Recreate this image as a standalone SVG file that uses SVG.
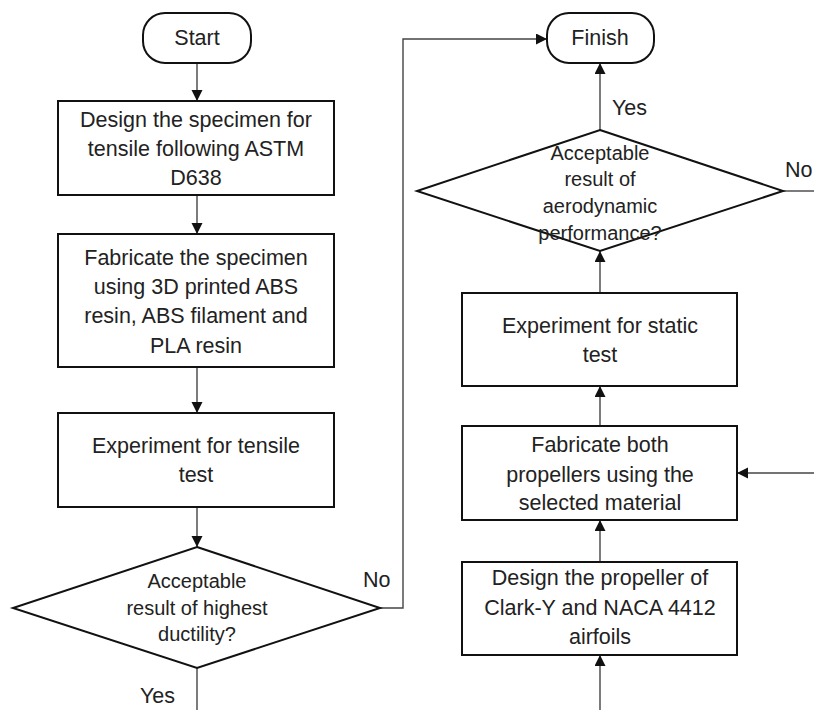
<svg xmlns="http://www.w3.org/2000/svg" width="814" height="710" viewBox="0 0 814 710">
<defs>
<marker id="ah" markerUnits="userSpaceOnUse" markerWidth="12" markerHeight="12" refX="11" refY="5.5" orient="auto">
<path d="M0,0 L11,5.5 L0,11 z" fill="#111"/>
</marker>
<style>
.shape{fill:#fff;stroke:#111;stroke-width:2}
.t{font-family:"Liberation Sans",Arial,sans-serif;font-size:21.5px;fill:#222;text-anchor:middle}
.d{font-family:"Liberation Sans",Arial,sans-serif;font-size:20px;fill:#222;text-anchor:middle}
.l{font-family:"Liberation Sans",Arial,sans-serif;font-size:21.5px;fill:#222}
.c{fill:none;stroke:#444;stroke-width:1.4}
.ca{fill:none;stroke:#444;stroke-width:1.4;marker-end:url(#ah)}
</style>
</defs>
<rect width="814" height="710" fill="#fff"/>
<g id="connectors">
<path class="ca" d="M197,63 V101"/>
<path class="ca" d="M197,195 V234"/>
<path class="ca" d="M197,367 V413"/>
<path class="ca" d="M197,507 V547"/>
<path class="c" d="M197,668 V710"/>
<path class="ca" d="M380,608 H403 V39 H547"/>
<path class="ca" d="M600,130 V63"/>
<path class="c" d="M783,191 H814"/>
<path class="ca" d="M600,293 V251"/>
<path class="ca" d="M600,426 V386"/>
<path class="ca" d="M600,562 V520"/>
<path class="ca" d="M600,710 V655"/>
<path class="ca" d="M814,473 H737"/>
<text class="l" x="363" y="587">No</text>
<text class="l" x="140" y="703">Yes</text>
<text class="l" x="612" y="115">Yes</text>
<text class="l" x="785" y="177">No</text>
</g>
<g id="start">
<rect class="shape" x="143" y="13" width="108" height="50" rx="22"/>
<text class="t" x="197" y="45">Start</text>
</g>
<g id="design-specimen">
<rect class="shape" x="58" y="101" width="276" height="94"/>
<text class="t" x="196" y="127">Design the specimen for</text>
<text class="t" x="196" y="156">tensile following ASTM</text>
<text class="t" x="196" y="185">D638</text>
</g>
<g id="fabricate-specimen">
<rect class="shape" x="58" y="234" width="276" height="133"/>
<text class="t" x="196" y="265">Fabricate the specimen</text>
<text class="t" x="196" y="294">using 3D printed ABS</text>
<text class="t" x="196" y="323">resin, ABS filament and</text>
<text class="t" x="196" y="353">PLA resin</text>
</g>
<g id="tensile-test">
<rect class="shape" x="58" y="413" width="276" height="94"/>
<text class="t" x="196" y="453">Experiment for tensile</text>
<text class="t" x="196" y="482">test</text>
</g>
<g id="ductility-decision">
<polygon class="shape" points="197,547 380,608 197,668 13,608"/>
<text class="d" x="197" y="588">Acceptable</text>
<text class="d" x="197" y="615">result of highest</text>
<text class="d" x="197" y="641">ductility?</text>
</g>
<g id="finish">
<rect class="shape" x="547" y="13" width="107" height="50" rx="22"/>
<text class="t" x="600" y="45">Finish</text>
</g>
<g id="aero-decision">
<polygon class="shape" points="600,130 783,191 600,251 417,191"/>
<text class="d" x="600" y="160">Acceptable</text>
<text class="d" x="600" y="186">result of</text>
<text class="d" x="600" y="213">aerodynamic</text>
<text class="d" x="600" y="240">performance?</text>
</g>
<g id="static-test">
<rect class="shape" x="462" y="293" width="275" height="93"/>
<text class="t" x="600" y="333">Experiment for static</text>
<text class="t" x="600" y="362">test</text>
</g>
<g id="fabricate-propellers">
<rect class="shape" x="462" y="426" width="275" height="94"/>
<text class="t" x="600" y="452">Fabricate both</text>
<text class="t" x="600" y="482">propellers using the</text>
<text class="t" x="600" y="510">selected material</text>
</g>
<g id="design-propeller">
<rect class="shape" x="462" y="562" width="275" height="93"/>
<text class="t" x="600" y="585">Design the propeller of</text>
<text class="t" x="600" y="615">Clark-Y and NACA 4412</text>
<text class="t" x="600" y="644">airfoils</text>
</g>
</svg>
